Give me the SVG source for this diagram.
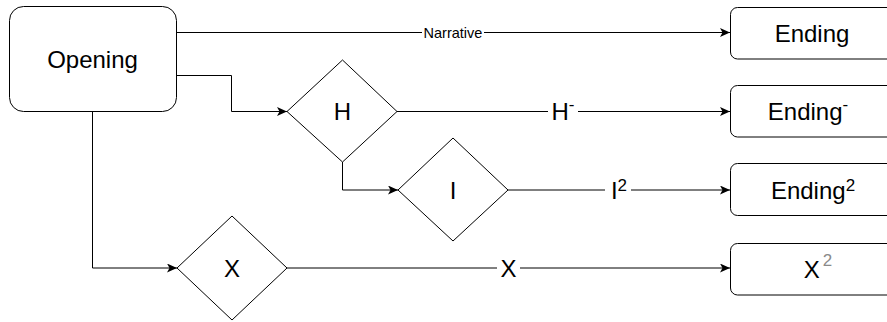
<svg xmlns="http://www.w3.org/2000/svg" width="887" height="322" viewBox="0 0 887 322">
  <style>
    .box { fill: #ffffff; stroke: #000000; stroke-width: 1; }
    .edge { fill: none; stroke: #000000; stroke-width: 1; }
    .lbl { font-family: "Liberation Sans", Arial, Helvetica, sans-serif; font-size: 24px; fill: #000000; text-anchor: middle; }
    .small { font-size: 14.5px; }
    .sup { font-size: 17px; }
    .lblbg { fill: #ffffff; }
  </style>
  <defs>
    <marker id="arrow" markerUnits="userSpaceOnUse" markerWidth="11" markerHeight="9" refX="10" refY="4.5" orient="auto">
      <path d="M0,0 L10,4.5 L0,9 L2.5,4.5 Z" fill="#000000"/>
    </marker>
  </defs>
  <rect width="887" height="322" fill="#ffffff"/>

  <!-- connectors -->
  <g id="edges">
    <path class="edge" d="M176,32.5 H730" marker-end="url(#arrow)"/>
    <path class="edge" d="M177,75.5 H231.5 V111.5 H287" marker-end="url(#arrow)"/>
    <path class="edge" d="M397,111.5 H730" marker-end="url(#arrow)"/>
    <path class="edge" d="M342.5,162 V190 H398" marker-end="url(#arrow)"/>
    <path class="edge" d="M508,190 H730" marker-end="url(#arrow)"/>
    <path class="edge" d="M92.5,111 V268 H177" marker-end="url(#arrow)"/>
    <path class="edge" d="M287,268 H730" marker-end="url(#arrow)"/>

    <!-- edge labels -->
    <rect class="lblbg" x="422" y="25" width="62" height="16"/>
    <text class="lbl small" x="453" y="37.5">Narrative</text>

    <rect class="lblbg" x="548" y="98" width="30" height="26"/>
    <text class="lbl" x="563" y="120">H<tspan class="sup" dy="-10">-</tspan></text>

    <rect class="lblbg" x="605" y="175" width="26" height="28"/>
    <text class="lbl" x="619" y="199">I<tspan class="sup" dy="-8">2</tspan></text>

    <rect class="lblbg" x="497" y="256" width="23" height="26"/>
    <text class="lbl" x="508.5" y="277">X</text>
  </g>

  <!-- nodes -->
  <g id="opening">
    <rect class="box" x="9.5" y="6.5" width="167" height="105" rx="14"/>
    <text class="lbl" x="92.5" y="67.5">Opening</text>
  </g>

  <g id="decision-h">
    <path class="box" d="M342.5,60 L397,111.5 L342.5,162 L287,111.5 Z"/>
    <text class="lbl" x="342.5" y="120">H</text>
  </g>

  <g id="decision-i">
    <path class="box" d="M453,138 L508,190 L453,241 L398,190 Z"/>
    <text class="lbl" x="453" y="199">I</text>
  </g>

  <g id="decision-x">
    <path class="box" d="M232,216 L287,268 L232,320 L177,268 Z"/>
    <text class="lbl" x="232" y="277">X</text>
  </g>

  <g id="ending">
    <rect class="box" x="730.5" y="7.5" width="165" height="51.5" rx="7"/>
    <text class="lbl" x="812" y="41.5">Ending</text>
  </g>

  <g id="ending-minus">
    <rect class="box" x="730.5" y="85.5" width="165" height="51.5" rx="7"/>
    <text class="lbl" x="808" y="120">Ending<tspan class="sup" dy="-10">-</tspan></text>
  </g>

  <g id="ending-squared">
    <rect class="box" x="730.5" y="163.5" width="165" height="52" rx="7"/>
    <text class="lbl" x="813" y="199">Ending<tspan class="sup" dy="-8">2</tspan></text>
  </g>

  <g id="x-squared">
    <rect class="box" x="730.5" y="243.5" width="165" height="51.5" rx="7"/>
    <text class="lbl" x="818" y="278">X<tspan class="sup" dx="3" dy="-12" fill="#8a8a8a">2</tspan></text>
  </g>
</svg>
